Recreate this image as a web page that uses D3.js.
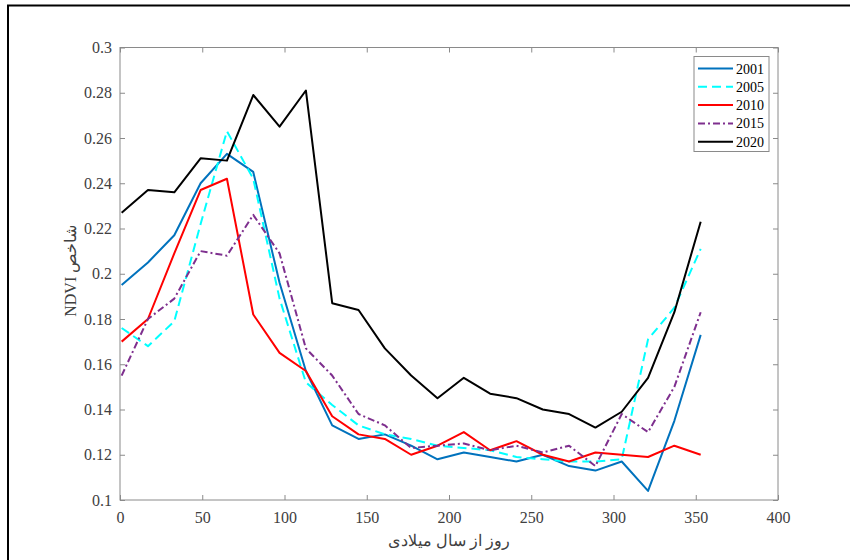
<!DOCTYPE html>
<html>
<head>
<meta charset="utf-8">
<script src="https://cdn.jsdelivr.net/npm/d3@7"></script>
<style>
  body { margin: 0; background: #fff; }
  svg { display: block; font-family: "Liberation Serif", "DejaVu Serif", serif; }
</style>
</head>
<body>
<svg id="chart" width="850" height="560"></svg>
<script>
// day of year (16-day composites)
const days = [1, 17, 33, 49, 65, 81, 97, 113, 129, 145, 161, 177, 193, 209, 225, 241, 257, 273, 289, 305, 321, 337, 353];

const ndvi2001 = [0.195, 0.205, 0.217, 0.240, 0.253, 0.245, 0.196, 0.157, 0.133, 0.127, 0.129, 0.124, 0.118, 0.121, 0.119, 0.117, 0.120, 0.115, 0.113, 0.117, 0.104, 0.135, 0.173];
const ndvi2005 = [0.176, 0.168, 0.179, 0.222, 0.263, 0.242, 0.189, 0.152, 0.142, 0.133, 0.129, 0.127, 0.124, 0.123, 0.122, 0.119, 0.118, 0.117, 0.117, 0.118, 0.171, 0.185, 0.211];
const ndvi2010 = [0.170, 0.180, 0.209, 0.237, 0.242, 0.182, 0.165, 0.157, 0.137, 0.129, 0.127, 0.120, 0.124, 0.130, 0.122, 0.126, 0.120, 0.117, 0.121, 0.120, 0.119, 0.124, 0.120];
const ndvi2015 = [0.155, 0.180, 0.189, 0.210, 0.208, 0.226, 0.209, 0.167, 0.155, 0.138, 0.133, 0.123, 0.124, 0.125, 0.122, 0.124, 0.121, 0.124, 0.115, 0.138, 0.130, 0.150, 0.183];
const ndvi2020 = [0.227, 0.237, 0.236, 0.251, 0.250, 0.279, 0.265, 0.281, 0.187, 0.184, 0.167, 0.155, 0.145, 0.154, 0.147, 0.145, 0.140, 0.138, 0.132, 0.139, 0.154, 0.183, 0.223];

const xTicks = [0, 50, 100, 150, 200, 250, 300, 350, 400];
const yTicks = [0.1, 0.12, 0.14, 0.16, 0.18, 0.2, 0.22, 0.24, 0.26, 0.28, 0.3];

const series = [
  { name: "2001", values: ndvi2001, color: "#0072BD", dash: null },
  { name: "2005", values: ndvi2005, color: "#00FFFF", dash: "9,5" },
  { name: "2010", values: ndvi2010, color: "#FF0000", dash: null },
  { name: "2015", values: ndvi2015, color: "#7E2F8E", dash: "7,3,2,3" },
  { name: "2020", values: ndvi2020, color: "#000000", dash: null }
];

const svg = d3.select("#chart");
const margin = { top: 47.5, right: 72, bottom: 60, left: 120 };
const width = 850, height = 560;

const x = d3.scaleLinear().domain([0, 400]).range([margin.left, width - margin.right]);
const y = d3.scaleLinear().domain([0.1, 0.3]).range([height - margin.bottom, margin.top]);

// outer frame (top and left edges only visible)
svg.append("line").attr("x1", 7).attr("x2", width).attr("y1", 5.5).attr("y2", 5.5)
  .attr("stroke", "#000").attr("stroke-width", 2);
svg.append("line").attr("x1", 8).attr("x2", 8).attr("y1", 5).attr("y2", height)
  .attr("stroke", "#000").attr("stroke-width", 2);

const axisColor = "#8a8a8a";
const textColor = "#404040";

function styleAxis(g, showText) {
  g.select(".domain").remove();
  g.selectAll(".tick line").attr("stroke", axisColor);
  g.selectAll(".tick text").attr("fill", textColor).style("font-size", "16px")
    .style("font-family", "'Liberation Serif', serif");
  if (!showText) g.selectAll(".tick text").remove();
}

// bottom / top axes (ticks inward)
svg.append("g").attr("transform", `translate(0,${y(0.1)})`)
  .call(d3.axisBottom(x).tickValues(xTicks).tickSizeInner(-5).tickSizeOuter(0).tickPadding(12))
  .call(g => styleAxis(g, true));
svg.append("g").attr("transform", `translate(0,${y(0.3)})`)
  .call(d3.axisTop(x).tickValues(xTicks).tickSizeInner(-5).tickSizeOuter(0))
  .call(g => styleAxis(g, false));
svg.append("g").attr("transform", `translate(${x(0)},0)`)
  .call(d3.axisLeft(y).tickValues(yTicks).tickFormat(d3.format("~g")).tickSizeInner(-5).tickSizeOuter(0).tickPadding(8))
  .call(g => styleAxis(g, true));
svg.append("g").attr("transform", `translate(${x(400)},0)`)
  .call(d3.axisRight(y).tickValues(yTicks).tickSizeInner(-5).tickSizeOuter(0))
  .call(g => styleAxis(g, false));

// plot box
svg.append("rect")
  .attr("x", x(0)).attr("y", y(0.3))
  .attr("width", x(400) - x(0)).attr("height", y(0.1) - y(0.3))
  .attr("fill", "none").attr("stroke", axisColor).attr("stroke-width", 1);

// lines
const line = d3.line().x((d, i) => x(days[i])).y(d => y(d));
svg.append("g").selectAll("path")
  .data(series)
  .join("path")
  .attr("d", d => line(d.values))
  .attr("fill", "none")
  .attr("stroke", d => d.color)
  .attr("stroke-width", 2)
  .attr("stroke-dasharray", d => d.dash)
  .attr("stroke-linejoin", "round");

// axis labels
svg.append("text")
  .attr("x", x(200)).attr("y", 546)
  .attr("text-anchor", "middle")
  .attr("fill", textColor)
  .style("font-size", "16px")
  .text("روز از سال میلادی");

svg.append("text")
  .attr("transform", `translate(76,${y(0.2) - 3}) rotate(-90)`)
  .attr("text-anchor", "middle")
  .attr("fill", textColor)
  .style("font-size", "16px")
  .text("NDVI شاخص");

// legend
const legend = svg.append("g").attr("transform", "translate(694,56.5)");
legend.append("rect").attr("width", 75).attr("height", 95)
  .attr("fill", "#fff").attr("stroke", axisColor).attr("stroke-width", 1);
const item = legend.selectAll("g.item").data(series).join("g")
  .attr("class", "item")
  .attr("transform", (d, i) => `translate(0,${12 + i * 18.3})`);
item.append("line")
  .attr("x1", 4).attr("x2", 39).attr("y1", 0).attr("y2", 0)
  .attr("stroke", d => d.color).attr("stroke-width", 2)
  .attr("stroke-dasharray", d => d.dash);
item.append("text")
  .attr("x", 42).attr("y", 5)
  .attr("fill", "#000")
  .style("font-size", "14px")
  .text(d => d.name);
</script>
</body>
</html>
